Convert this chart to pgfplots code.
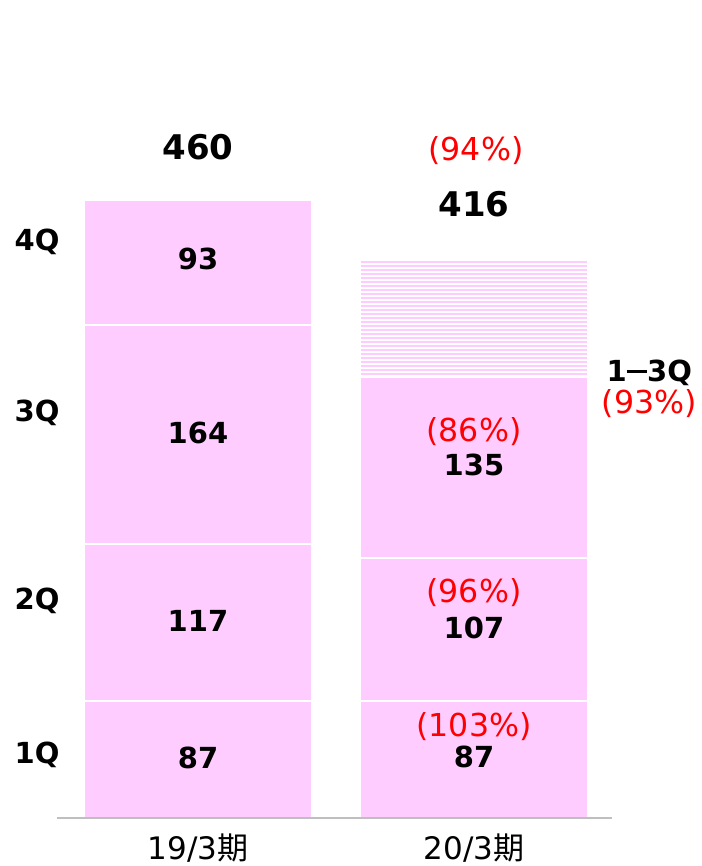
\documentclass[border=0pt]{standalone}
\usepackage{pgfplots}
\pgfplotsset{compat=1.18}
\usepackage{fontspec}
\setmainfont{DejaVu Sans}
\newfontfamily\cjk{Noto Sans CJK JP}
\usetikzlibrary{patterns.meta}
\definecolor{pinkfill}{HTML}{FFCCFF}
\definecolor{redtxt}{HTML}{FF0000}
\newcommand{\fnum}{\fontsize{14.5}{17}\selectfont\bfseries}
\newcommand{\ftot}{\fontsize{17}{20}\selectfont\bfseries}
\newcommand{\fred}{\fontsize{15.8}{18}\selectfont\color{redtxt}}
\newcommand{\flab}{\fontsize{15.5}{18}\selectfont}
\begin{document}
\begin{tikzpicture}
\begin{axis}[scale only axis, width=350.5pt, height=433pt,
  xmin=-0.7174, xmax=1.8225, ymin=-35.8, ymax=610,
  axis lines=none, ticks=none, ybar stacked, bar width=0.826, clip=false]
\addplot[fill=pinkfill, draw=white, line width=1pt] coordinates {(0,87) (1,87)};
\addplot[fill=pinkfill, draw=white, line width=1pt] coordinates {(0,117) (1,107)};
\addplot[fill=pinkfill, draw=white, line width=1pt] coordinates {(0,164) (1,135)};
\addplot[fill=pinkfill, draw=white, line width=1pt] coordinates {(0,93) (1,0)};
\addplot[pattern={Lines[angle=0,distance=2pt,line width=1.4pt]}, pattern color=pinkfill, draw=white, line width=1pt] coordinates {(0,0) (1,87)};
\coordinate (ll) at (rel axis cs:0,0);
\coordinate (ur) at (rel axis cs:1,1);
\coordinate (bl) at (axis cs:-0.511,0);
\coordinate (br) at (axis cs:1.5,0);
\coordinate (a1) at (axis cs:0,45);
\coordinate (a2) at (axis cs:0,147);
\coordinate (a3) at (axis cs:0,287);
\coordinate (a4) at (axis cs:0,417);
\coordinate (a5) at (axis cs:0,500);
\coordinate (b1r) at (axis cs:1,68);
\coordinate (b1) at (axis cs:1,45.5);
\coordinate (b2r) at (axis cs:1,168);
\coordinate (b2) at (axis cs:1,142);
\coordinate (b3r) at (axis cs:1,288);
\coordinate (b3) at (axis cs:1,263);
\coordinate (b5) at (axis cs:1,458);
\coordinate (b5r) at (axis cs:1.007,498);
\coordinate (q4) at (axis cs:-0.583,430);
\coordinate (q3) at (axis cs:-0.583,302);
\coordinate (q2) at (axis cs:-0.583,162);
\coordinate (q1) at (axis cs:-0.583,47);
\coordinate (qa) at (axis cs:1.635,332);
\coordinate (qb) at (axis cs:1.635,309);
\coordinate (x1) at (axis cs:0,-22.4);
\coordinate (x2) at (axis cs:1,-22.4);
\end{axis}
\draw[black!25, line width=0.9pt] (bl) -- (br);
\node[font=\fnum] at (a1) {87};
\node[font=\fnum] at (a2) {117};
\node[font=\fnum] at (a3) {164};
\node[font=\fnum] at (a4) {93};
\node[font=\ftot] at (a5) {460};
\node[font=\fred] at (b1r) {(103\%)};
\node[font=\fnum] at (b1) {87};
\node[font=\fred] at (b2r) {(96\%)};
\node[font=\fnum] at (b2) {107};
\node[font=\fred] at (b3r) {(86\%)};
\node[font=\fnum] at (b3) {135};
\node[font=\ftot] at (b5) {416};
\node[font=\fred] at (b5r) {(94\%)};
\node[font=\fnum] at (q4) {4Q};
\node[font=\fnum] at (q3) {3Q};
\node[font=\fnum] at (q2) {2Q};
\node[font=\fnum] at (q1) {1Q};
\node[font=\fnum] at (qa) {1\raisebox{0.3em}{\rule{0.7em}{0.1em}}3Q};
\node[font=\fred] at (qb) {(93\%)};
\node[font=\flab] at (x1) {19/3{\cjk 期}};
\node[font=\flab] at (x2) {20/3{\cjk 期}};
\pgfresetboundingbox
\useasboundingbox (ll) rectangle (ur);
\end{tikzpicture}
\end{document}
